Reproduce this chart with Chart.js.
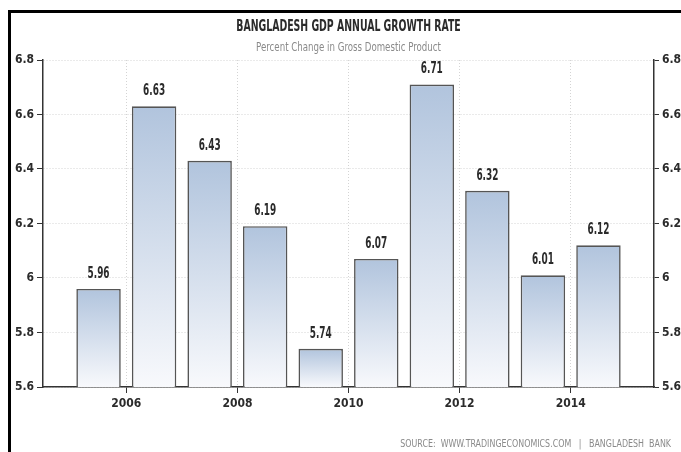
<!DOCTYPE html>
<html>
<head>
<meta charset="utf-8">
<script src="https://cdn.jsdelivr.net/npm/chart.js@4/dist/chart.umd.min.js"></script>
<style>
  html, body { margin: 0; padding: 0; background: #fff; }
  canvas { display: block; }
</style>
</head>
<body>
<canvas id="gdpChart" width="681" height="452"></canvas>
<script>
// datos del grafico
const years = [2005, 2006, 2007, 2008, 2009, 2010, 2011, 2012, 2013, 2014];
const growth = [5.96, 6.63, 6.43, 6.19, 5.74, 6.07, 6.71, 6.32, 6.01, 6.12];
const yearTicks = [2006, 2008, 2010, 2012, 2014];
const valueTicks = [5.6, 5.8, 6, 6.2, 6.4, 6.6, 6.8];

const FONT = "'DejaVu Sans Condensed', 'DejaVu Sans', sans-serif";
const TEXT = '#2b2b2b';

// texto comprimido en horizontal
function narrowText(c, text, x, y, sx) {
  c.save();
  c.translate(x, y);
  c.scale(sx, 1);
  c.fillText(text, 0, 0);
  c.restore();
}

// marco negro, titulo, fuente y etiquetas de valores
const decorPlugin = {
  id: 'decor',
  beforeDraw(chart) {
    const c = chart.ctx;
    c.save();
    c.fillStyle = '#000';
    c.fillRect(8, 10, chart.width - 8, 3);
    c.fillRect(8, 10, 3, chart.height - 10);
    c.restore();
  },
  afterDraw(chart) {
    const c = chart.ctx;
    const area = chart.chartArea;
    const cx = (area.left + area.right) / 2;
    c.save();
    c.textAlign = 'center';
    c.textBaseline = 'middle';
    c.fillStyle = TEXT;
    c.font = 'bold 16px ' + FONT;
    narrowText(c, 'BANGLADESH GDP ANNUAL GROWTH RATE', cx, 27, 0.65);
    c.fillStyle = '#8a8a8a';
    c.font = '12px ' + FONT;
    narrowText(c, 'Percent Change in Gross Domestic Product', cx, 48, 0.8);
    c.textAlign = 'right';
    c.font = '11px ' + FONT;
    narrowText(c, 'SOURCE:  WWW.TRADINGECONOMICS.COM   |   BANGLADESH  BANK', 671, 444, 0.8);
    c.restore();
  },
  afterDatasetsDraw(chart) {
    const c = chart.ctx;
    const meta = chart.getDatasetMeta(0);
    c.save();
    c.textAlign = 'center';
    c.textBaseline = 'middle';
    c.fillStyle = TEXT;
    c.font = 'bold 15px ' + FONT;
    meta.data.forEach((bar, i) => {
      narrowText(c, growth[i].toFixed(2), bar.x, bar.y - 15, 0.66);
    });
    c.restore();
  }
};

// degradado por barra, de azul arriba a blanco abajo
function barGradient(ctx) {
  const chart = ctx.chart;
  const area = chart.chartArea;
  if (!area || ctx.type !== 'data') return '#b3c6de';
  const top = chart.scales.y.getPixelForValue(ctx.parsed.y);
  const g = chart.ctx.createLinearGradient(0, top, 0, area.bottom);
  g.addColorStop(0, '#b1c4dd');
  g.addColorStop(1, '#f8f9fc');
  return g;
}

const tickFont = { family: FONT, size: 12, weight: 'bold' };
const fmtValue = v => String(Math.round(v * 10) / 10);

new Chart(document.getElementById('gdpChart'), {
  type: 'bar',
  data: {
    datasets: [{
      data: years.map((yr, i) => ({ x: yr + 0.5, y: growth[i] })),
      backgroundColor: barGradient,
      borderColor: '#555',
      borderWidth: 1.6,
      borderSkipped: 'bottom',
      categoryPercentage: 1,
      barPercentage: 0.8
    }]
  },
  plugins: [decorPlugin],
  options: {
    responsive: false,
    animation: false,
    layout: { padding: { top: 60, left: 0, right: 0, bottom: 0 } },
    plugins: {
      legend: { display: false },
      tooltip: { enabled: false },
      title: { display: false }
    },
    scales: {
      x: {
        type: 'linear',
        offset: false,
        min: 2004.5,
        max: 2015.5,
        afterBuildTicks: s => { s.ticks = yearTicks.map(v => ({ value: v })); },
        afterFit: s => { s.height = 65; },
        ticks: { color: TEXT, font: tickFont, padding: 4, callback: v => String(v), maxRotation: 0 },
        grid: { offset: false, color: '#d4d4d4', tickColor: '#333', tickLength: 6, lineWidth: 1 },
        border: { color: '#333', width: 1.5, dash: [1, 2] }
      },
      y: {
        position: 'left',
        min: 5.6,
        max: 6.8,
        afterBuildTicks: s => { s.ticks = valueTicks.map(v => ({ value: v })); },
        afterFit: s => { s.width = 43; },
        ticks: { color: TEXT, font: tickFont, padding: 3, callback: fmtValue },
        grid: { color: '#d4d4d4', tickColor: '#333', tickLength: 6, lineWidth: 1 },
        border: { color: '#333', width: 1.5, dash: [1, 2] }
      },
      y2: {
        position: 'right',
        min: 5.6,
        max: 6.8,
        afterBuildTicks: s => { s.ticks = valueTicks.map(v => ({ value: v })); },
        afterFit: s => { s.width = 27; },
        ticks: { color: TEXT, font: tickFont, padding: 3, callback: fmtValue },
        grid: { drawOnChartArea: false, tickColor: '#333', tickLength: 5 },
        border: { color: '#333', width: 1.5 }
      }
    }
  }
});
</script>
</body>
</html>
